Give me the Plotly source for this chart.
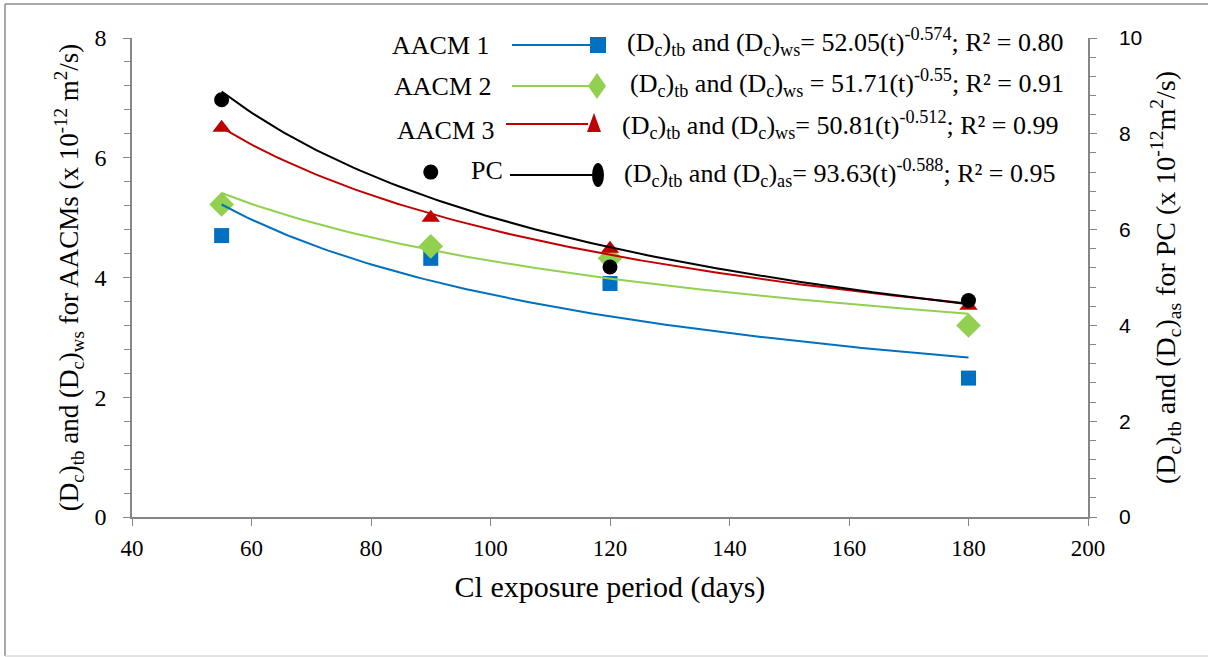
import numpy as np
import plotly.graph_objects as go

# ---------------- data ----------------
days = [55, 90, 120, 180]
aacm1 = [4.70, 4.32, 3.90, 2.32]
aacm2 = [5.22, 4.52, 4.32, 3.20]
aacm3 = [6.50, 5.00, 4.48, 3.53]
pc = [8.71, 7.20, 5.22, 4.52]

series_names = ["AACM 1", "AACM 2", "AACM 3", "PC"]
equations = [
    "(D<sub>c</sub>)<sub>tb</sub> and (D<sub>c</sub>)<sub>ws</sub>= 52.05(t)<sup>-0.574</sup>; R² = 0.80",
    "(D<sub>c</sub>)<sub>tb</sub> and (D<sub>c</sub>)<sub>ws</sub> = 51.71(t)<sup>-0.55</sup>; R² = 0.91",
    "(D<sub>c</sub>)<sub>tb</sub> and (D<sub>c</sub>)<sub>ws</sub>= 50.81(t)<sup>-0.512</sup>; R² = 0.99",
    "(D<sub>c</sub>)<sub>tb</sub> and (D<sub>c</sub>)<sub>as</sub>= 93.63(t)<sup>-0.588</sup>; R² = 0.95",
]
x_ticks = [40, 60, 80, 100, 120, 140, 160, 180, 200]

colors = ["#0070C0", "#92D050", "#C00000", "#000000"]
symbols = ["square", "diamond", "triangle-up", "circle"]
msizes = [15, 19, 16, 15]
serif = "Liberation Serif"

W, H = 1208, 657
L, R, T, B = 132, 120, 38, 140


def power_fit(x, y):
    b, a = np.polyfit(np.log(x), np.log(y), 1)
    xs = np.linspace(min(x), max(x), 120)
    return xs, np.exp(a) * xs ** b


fig = go.Figure()
all_y = [aacm1, aacm2, aacm3, pc]
axes = ["y", "y", "y", "y2"]

for yv, c, sym, ms, ax in zip(all_y, colors, symbols, msizes, axes):
    fig.add_trace(go.Scatter(x=days, y=yv, mode="markers", yaxis=ax,
                             marker=dict(symbol=sym, size=ms, color=c),
                             showlegend=False))
for yv, c, ax in zip(all_y, colors, axes):
    xs, ys = power_fit(days, yv)
    fig.add_trace(go.Scatter(x=xs, y=ys, mode="lines", yaxis=ax,
                             line=dict(color=c, width=2), showlegend=False))


# ---------------- custom legend ----------------
def px(xp):
    return (xp - L) / (W - L - R)


def py(yp):
    return (H - B - yp) / (H - T - B)


label_pos = [(492, 45), (494, 87), (497, 130), (505, 170)]
line_pos = [(512, 592, 45), (512, 590, 86), (506, 588, 124), (510, 592, 175)]
eq_pos = [(625, 42), (628, 83), (620, 125), (622, 173)]

shapes = []
annotations = []
for i in range(4):
    lx, ly = label_pos[i]
    annotations.append(dict(x=px(lx), y=py(ly), xref="paper", yref="paper",
                            text=series_names[i], showarrow=False,
                            xanchor="right", yanchor="middle",
                            font=dict(family=serif, size=26, color="black")))
    ex, ey = eq_pos[i]
    annotations.append(dict(x=px(ex), y=py(ey), xref="paper", yref="paper",
                            text=equations[i], showarrow=False,
                            xanchor="left", yanchor="middle",
                            font=dict(family=serif, size=26, color="black")))
    x0, x1, yy = line_pos[i]
    shapes.append(dict(type="line", xref="paper", yref="paper",
                       x0=px(x0), x1=px(x1), y0=py(yy), y1=py(yy),
                       line=dict(color=colors[i], width=2)))
    c = colors[i]
    if i == 0:
        cx, cy, h = 598, 45, 8
        shapes.append(dict(type="rect", xref="paper", yref="paper",
                           x0=px(cx - h), x1=px(cx + h), y0=py(cy - h), y1=py(cy + h),
                           fillcolor=c, line=dict(width=0)))
    elif i == 1:
        cx, cy = 597, 86
        path = "M {} {} L {} {} L {} {} L {} {} Z".format(
            px(cx), py(cy - 13), px(cx + 9), py(cy), px(cx), py(cy + 13), px(cx - 9), py(cy))
        shapes.append(dict(type="path", xref="paper", yref="paper", path=path,
                           fillcolor=c, line=dict(width=0)))
    elif i == 2:
        cx, cy = 594, 124
        path = "M {} {} L {} {} L {} {} Z".format(
            px(cx), py(cy - 11), px(cx + 7), py(cy + 8), px(cx - 7), py(cy + 8))
        shapes.append(dict(type="path", xref="paper", yref="paper", path=path,
                           fillcolor=c, line=dict(width=0)))
    else:
        cx, cy = 598, 175
        shapes.append(dict(type="circle", xref="paper", yref="paper",
                           x0=px(cx - 6), x1=px(cx + 6), y0=py(cy - 12), y1=py(cy + 12),
                           fillcolor=c, line=dict(width=0)))

# outer frame (left, top, bottom edges)
frame_grey = "#8c8c8c"
shapes.append(dict(type="line", xref="paper", yref="paper",
                   x0=px(5), x1=px(5), y0=py(656), y1=py(4),
                   line=dict(color=frame_grey, width=1.5), layer="below"))
shapes.append(dict(type="line", xref="paper", yref="paper",
                   x0=px(5), x1=px(1208), y0=py(4), y1=py(4),
                   line=dict(color=frame_grey, width=1.5), layer="below"))
shapes.append(dict(type="line", xref="paper", yref="paper",
                   x0=px(5), x1=px(1208), y0=py(656), y1=py(656),
                   line=dict(color="#d9d9d9", width=1.5), layer="below"))

axis_grey = "#868686"
fig.update_layout(
    width=W, height=H,
    margin=dict(l=L, r=R, t=T, b=B),
    plot_bgcolor="white", paper_bgcolor="white",
    shapes=shapes, annotations=annotations,
    xaxis=dict(range=[40, 200], tickvals=x_ticks, showgrid=False, zeroline=False,
               showline=True, linecolor=axis_grey, linewidth=1.5,
               ticks="outside", tickcolor=axis_grey, ticklen=7,
               ticklabelstandoff=3,
               tickfont=dict(family=serif, size=23, color="black"),
               title=dict(text="Cl exposure period (days)",
                          font=dict(family=serif, size=30, color="black"), standoff=16)),
    yaxis=dict(range=[0, 8], dtick=2, showgrid=False, zeroline=False,
               showline=True, linecolor=axis_grey, linewidth=1.5,
               ticks="outside", tickcolor=axis_grey, ticklen=7,
               ticklabelstandoff=12,
               minor=dict(dtick=0.4, ticks="outside", ticklen=6, tickcolor=axis_grey),
               tickfont=dict(family=serif, size=24, color="black"),
               title=dict(text="(D<sub>c</sub>)<sub>tb</sub> and (D<sub>c</sub>)<sub>ws</sub> for AACMs (x 10<sup>-12</sup> m<sup>2</sup>/s)",
                          font=dict(family=serif, size=27, color="black"), standoff=8)),
    yaxis2=dict(range=[0, 10], dtick=2, overlaying="y", side="right",
                showgrid=False, zeroline=False,
                showline=True, linecolor=axis_grey, linewidth=1.5,
                ticks="outside", tickcolor=axis_grey, ticklen=7,
                ticklabelstandoff=18,
                minor=dict(dtick=0.4, ticks="outside", ticklen=6, tickcolor=axis_grey),
                tickfont=dict(family="Liberation Sans", size=21, color="black"),
                title=dict(text="(D<sub>c</sub>)<sub>tb</sub> and (D<sub>c</sub>)<sub>as</sub> for PC (x 10<sup>-12</sup>m<sup>2</sup>/s)",
                           font=dict(family=serif, size=28, color="black"), standoff=14)),
)

fig.write_html("out.html", config={"displayModeBar": False},
               post_script="document.body.style.margin='0';")
